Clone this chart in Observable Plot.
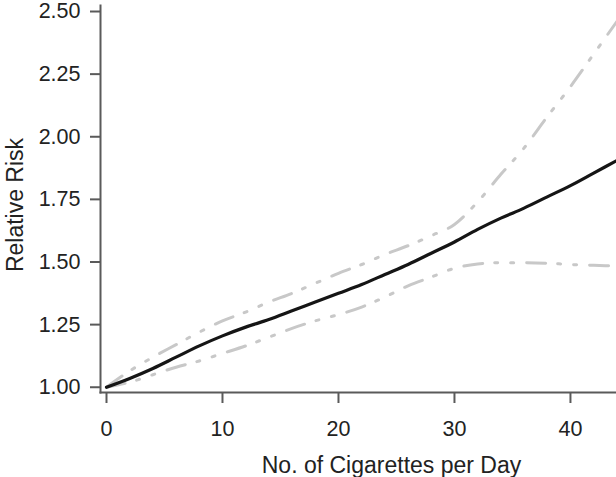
<!DOCTYPE html>
<html>
<head>
<meta charset="utf-8">
<script src="https://cdn.jsdelivr.net/npm/d3@7"></script>
<script src="https://cdn.jsdelivr.net/npm/@observablehq/plot@0.6"></script>
<style>
  html, body { margin: 0; padding: 0; background: #fff; }
  #chart svg { display: block; }
</style>
</head>
<body>
<div id="chart"></div>
<script>
const cigarettes = [0,2,4,6,8,10,12,14,16,18,20,22,24,26,28,30,32,34,36,38,40,42,44];
const relativeRisk = [1.00,1.035,1.075,1.12,1.165,1.205,1.24,1.27,1.305,1.34,1.375,1.41,1.45,1.49,1.535,1.58,1.63,1.675,1.715,1.76,1.805,1.855,1.905];
const upperCI = [1.00,1.065,1.12,1.17,1.22,1.265,1.30,1.34,1.375,1.415,1.455,1.49,1.53,1.565,1.605,1.65,1.74,1.85,1.955,2.08,2.20,2.33,2.46];
const lowerCI = [1.00,1.02,1.05,1.08,1.105,1.135,1.165,1.20,1.235,1.265,1.29,1.32,1.36,1.405,1.44,1.475,1.492,1.497,1.497,1.495,1.49,1.487,1.484];
const xTicks = [0,10,20,30,40];
const yTicks = [1.00,1.25,1.50,1.75,2.00,2.25,2.50];
const xTitle = "No. of Cigarettes per Day";
const yTitle = "Relative Risk";

const rows = cigarettes.map((c, i) => ({c, rr: relativeRisk[i], lo: lowerCI[i], hi: upperCI[i]}));

const axisColor = "#5a5a5a";
const textColor = "#222";
const ciStyle = {stroke: "#c8c8c8", strokeWidth: 3, strokeDasharray: "19,12,3,13,3,13", curve: "monotone-x"};

const chart = Plot.plot({
  width: 616,
  height: 477,
  marginLeft: 100,
  marginRight: 0,
  marginTop: 5,
  marginBottom: 85,
  style: {fontFamily: "'Liberation Sans', Arial, Helvetica, sans-serif", fontSize: "21.5px", color: textColor, background: "#fff"},
  x: {domain: [-0.517, 43.97]},
  y: {domain: [0.979, 2.524]},
  marks: [
    Plot.frame({anchor: "left", stroke: axisColor, strokeWidth: 2}),
    Plot.frame({anchor: "bottom", stroke: axisColor, strokeWidth: 2}),
    Plot.axisX({ticks: xTicks, tickSize: 11, tickPadding: 17, stroke: axisColor, strokeWidth: 2, fill: textColor, label: null}),
    Plot.axisY({ticks: yTicks, tickSize: 10, tickPadding: 10, tickFormat: d3.format(".2f"), stroke: axisColor, strokeWidth: 2, fill: textColor, label: null}),
    Plot.line(rows, {x: "c", y: "hi", ...ciStyle}),
    Plot.line(rows, {x: "c", y: "lo", ...ciStyle}),
    Plot.line(rows, {x: "c", y: "rr", stroke: "#151515", strokeWidth: 3.2, curve: "monotone-x"}),
    Plot.text([xTitle], {frameAnchor: "bottom", textAnchor: "middle", lineAnchor: "top", dx: 33, dy: 64, fontSize: 23, fill: textColor}),
    Plot.text([yTitle], {frameAnchor: "left", textAnchor: "middle", lineAnchor: "bottom", rotate: -90, dx: -78, dy: 6, fontSize: 23, fill: textColor})
  ]
});
document.getElementById("chart").appendChild(chart);
</script>
</body>
</html>
